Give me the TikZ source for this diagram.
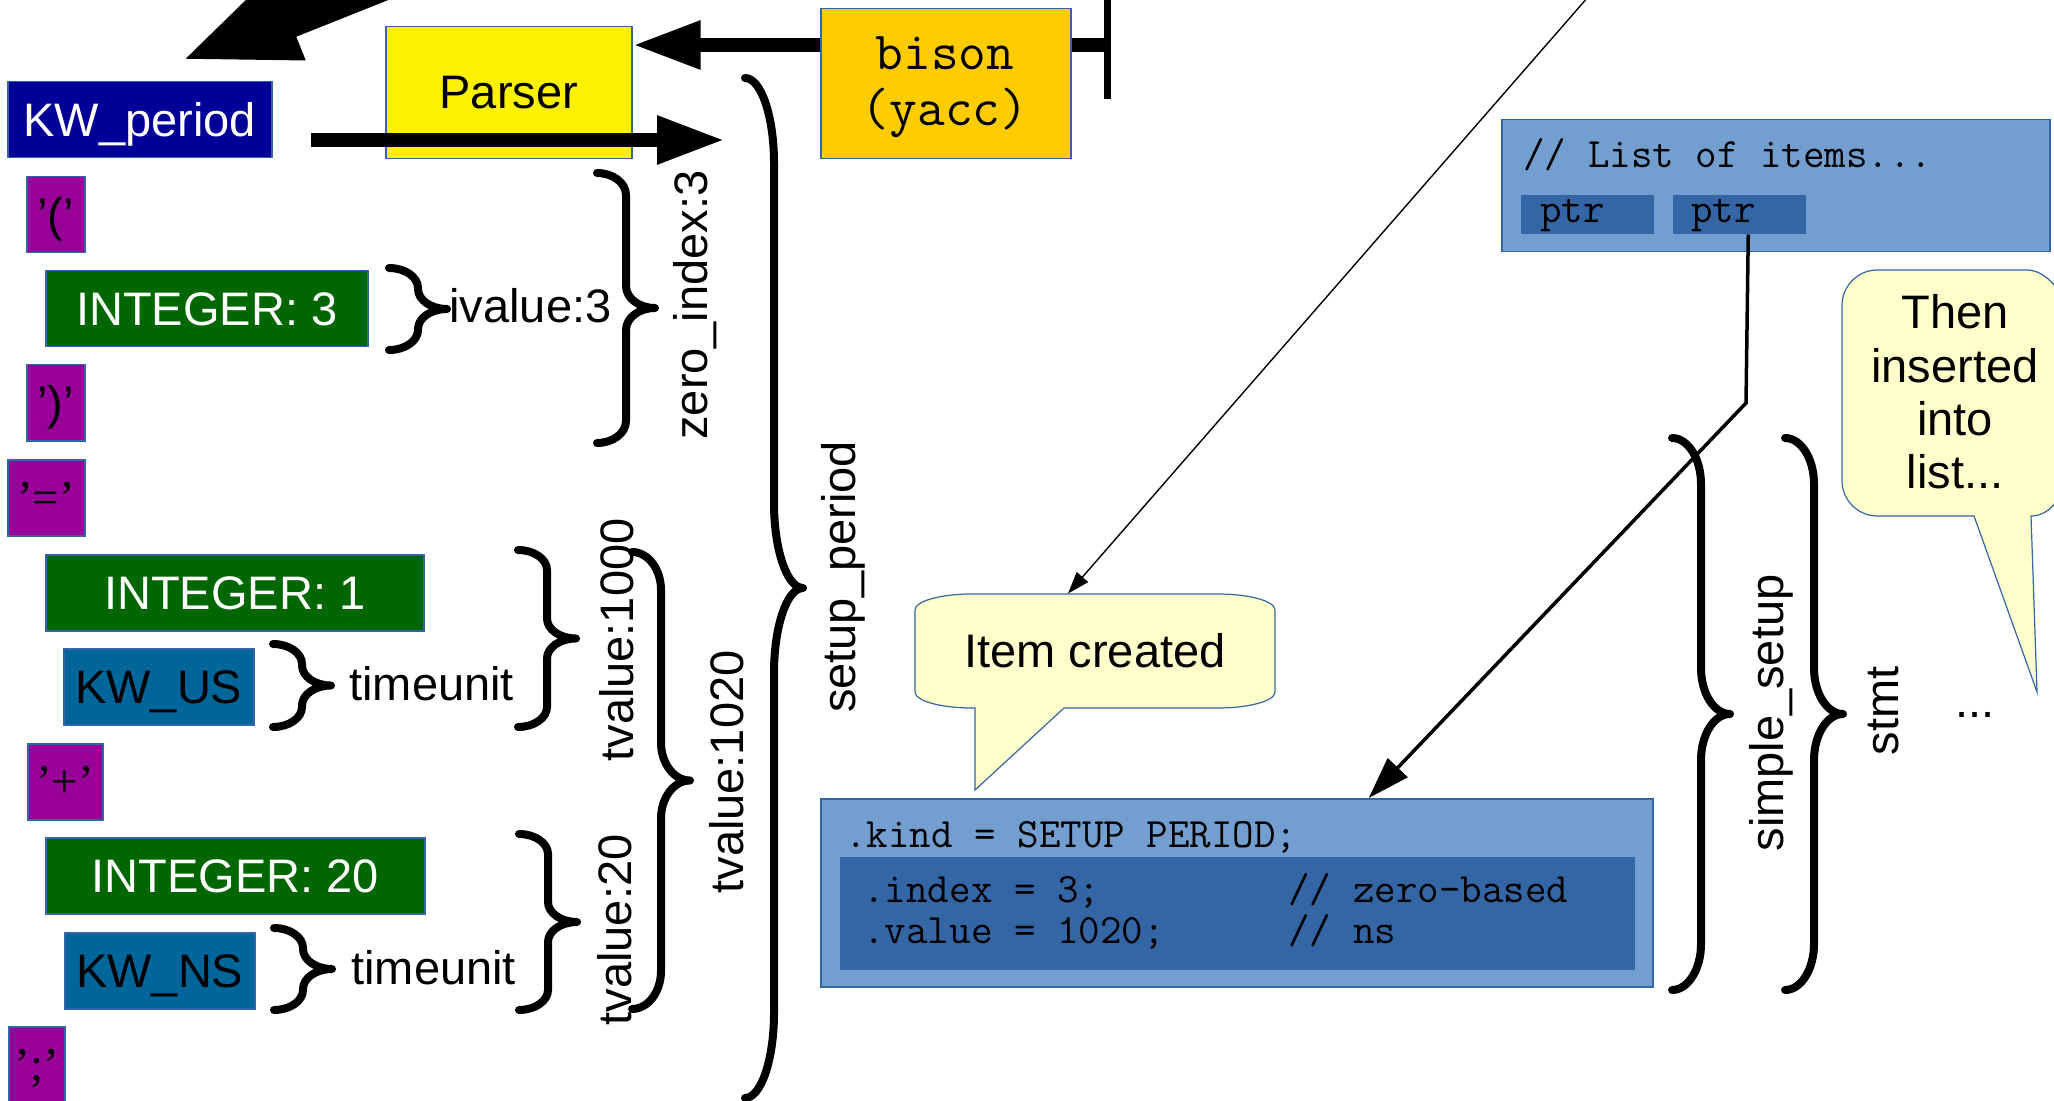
\documentclass[tikz,border=0pt]{standalone}
\usepackage{fontspec}
\setmainfont{Liberation Sans}
\newfontfamily\tokserif{Liberation Serif}
\usetikzlibrary{arrows.meta,positioning,calc}

\definecolor{kwblue}{HTML}{000099}
\definecolor{tokpurple}{HTML}{990099}
\definecolor{intgreen}{HTML}{006600}
\definecolor{unitblue}{HTML}{006699}
\definecolor{bisonorange}{HTML}{FFCC00}
\definecolor{lightblue}{HTML}{729FCF}
\definecolor{darkblue}{HTML}{3465A4}
\definecolor{noteyellow}{HTML}{FFFFCC}

% right curly brace: left x, top y, bottom y, curl
\newcommand{\grpbrace}[4]{%
  \draw[brace line] (#1,#2)
    .. controls ({#1+16},#2) and ({#1+29},{#2+0.45*#4}) .. ({#1+29},{#2+#4})
    -- ({#1+29},{(#2+#3)/2-#4})
    .. controls ({#1+29},{(#2+#3)/2-0.45*#4}) and ({#1+42},{(#2+#3)/2}) .. ({#1+58},{(#2+#3)/2})
    .. controls ({#1+42},{(#2+#3)/2}) and ({#1+29},{(#2+#3)/2+0.45*#4}) .. ({#1+29},{(#2+#3)/2+#4})
    -- ({#1+29},{#3-#4})
    .. controls ({#1+29},{#3-0.45*#4}) and ({#1+16},#3) .. (#1,#3);
}

\begin{document}
\begin{tikzpicture}[x=0.5pt, y=-0.5pt,
    box/.style={draw=darkblue, line width=0.75pt, inner sep=0pt, anchor=north west, text depth=0pt},
    tok/.style={box, fill=tokpurple, minimum height=38pt},
    optok/.style={tok, font=\tokserif\fontsize{23.5}{26.7}\selectfont},
    intbox/.style={box, fill=intgreen, text=white, minimum height=38pt},
    unitbox/.style={box, fill=unitblue, minimum width=95pt, minimum height=38pt},
    listbox/.style={box, fill=lightblue},
    ptrbox/.style={box, fill=darkblue, draw=none, minimum width=66.5pt, minimum height=19.5pt},
    code/.style={font=\ttfamily\fontsize{20.9}{24}\selectfont, inner sep=0pt, anchor=base west},
    lbl/.style={inner sep=0pt, anchor=base west},
    vlbl/.style={inner sep=0pt, anchor=base, rotate=90},
    note/.style={fill=noteyellow, draw=darkblue, line width=0.6pt},
    brace line/.style={line width=4pt, line cap=round, line join=round},
    bigarrow/.style={line width=7.25pt, -{Triangle[length=34pt,width=22.5pt]}},
    bararrow/.style={line width=7.25pt, {Bar[width=54pt,line width=3.5pt]}-{Triangle[length=34pt,width=22.5pt]}},
    hugearrow/.style={line width=20.5pt, -{Triangle[length=58.5pt,width=41pt]}},
    ptrarrow/.style={line width=1.75pt, -{Triangle[length=21pt,width=13.5pt]}},
    thinarrow/.style={line width=0.7pt, -{Triangle[length=11pt,width=7.5pt]}}]
  \tikzstyle{every node}=[font=\fontsize{23.5}{26.7}\selectfont]

  \useasboundingbox (0,0) rectangle (2054,1101);
  \clip (0,0) rectangle (2054,1101);
  \fill[white] (0,0) rectangle (2054,1101);

  % token stream
  \coordinate (lexsrc) at (644,-124);
  \coordinate (lextip) at (180,61);
  \draw[hugearrow] (lexsrc) -- (lextip);

  \node[box, fill=kwblue, text=white, minimum width=132pt, minimum height=38pt] (kwp) at (7,81) {KW\_period};
  \node[tok, minimum width=29pt] (lpar) at (26,176) {’(’};
  \node[intbox, minimum width=161pt] (int3) at (45,270) {INTEGER: 3};
  \node[tok, minimum width=29pt] (rpar) at (26,364) {’)’};
  \node[optok, minimum width=38.5pt] (eq) at (7,459) {’=’};
  \node[intbox, minimum width=189pt] (int1) at (45,554) {INTEGER: 1};
  \node[unitbox] (kwus) at (63,648) {KW\_US};
  \node[optok, minimum width=37.5pt] (plus) at (27,743) {’+’};
  \node[intbox, minimum width=189.5pt] (int20) at (45,837) {INTEGER: 20};
  \node[unitbox] (kwns) at (64,932) {KW\_NS};
  \node[optok, minimum width=28pt] (semi) at (8,1026) {’;’};

  % parser and generator
  \node[box, fill=yellow, minimum width=123pt, minimum height=66pt] (parser) at (385,26) {Parser};
  \coordinate (bar) at (1111,45);
  \draw[bararrow] (bar) -- (parser.east |- bar);
  \node[box, fill=bisonorange, minimum width=125pt, minimum height=75pt] (bison) at (820,8) {};
  \node[align=center, inner sep=0pt, font=\ttfamily\fontsize{26.9}{28}\selectfont] (bisontxt) at (945,87) {bison\\(yacc)};
  \coordinate (tin) at (311,140);
  \coordinate (tout) at (725,140);
  \draw[bigarrow] (tin) -- (tout);

  % reductions
  \grpbrace{389}{268}{350}{20}
  \node[lbl] (ival) at (449,323) {ivalue:3};
  \grpbrace{597}{173}{443}{22}
  \node[vlbl] (zidx) at (707,305) {zero\_index:3};
  \grpbrace{273}{644}{727}{20}
  \node[lbl] (tu1) at (349,700) {timeunit};
  \grpbrace{518}{550}{727}{20}
  \node[vlbl] (tv1000) at (633,640) {tvalue:1000};
  \grpbrace{274}{928}{1010}{20}
  \node[lbl] (tu2) at (351,984) {timeunit};
  \grpbrace{519}{834}{1010}{20}
  \node[vlbl] (tv20) at (631,930) {tvalue:20};
  \grpbrace{632}{552}{1009}{38}
  \node[vlbl] (tv1020) at (743,772) {tvalue:1020};
  \grpbrace{745}{78}{1098}{85}
  \node[vlbl] (setup) at (855,577) {setup\_period};

  % list of items
  \node[listbox, minimum width=274pt, minimum height=66pt] (list) at (1501,119) {};
  \node[code] (listtxt) at (1523,168) {// List of items...};
  \node[ptrbox] (ptr1) at (1520,194) {};
  \node[ptrbox, right=9pt of ptr1] (ptr2) {};
  \node[code] (p1) at (1540,223) {ptr};
  \node[code] (p2) at (1691,223) {ptr};

  % the new item
  \node[listbox, minimum width=416pt, minimum height=94pt] (item) at (820,798) {};
  \node[box, fill=darkblue, draw=none, minimum width=397.5pt, minimum height=56.5pt] (fields) at (839,856) {};
  \node[code] (kind) at (845,847) {.kind = SETUP PERIOD;};
  \node[code] (idx) at (863,902) {.index = 3;};
  \node[code] (cm1) at (1288,902) {// zero-based};
  \node[code] (val) at (863,943) {.value = 1020;};
  \node[code] (cm2) at (1288,943) {// ns};

  \coordinate (bend) at (1746,403);
  \draw[ptrarrow] ($(ptr2.south)+(8.5,0)$) -- (bend) -- ($(item.north)+(132,0)$);

  % notes
  \filldraw[note] (972,594) -- (1218,594) .. controls (1249,594) and (1275,601) .. (1275,610)
    -- (1275,692) .. controls (1275,701) and (1249,708) .. (1218,708) -- (1064,708) -- (975,790)
    -- (975,708) -- (972,708) .. controls (941,708) and (915,701) .. (915,692)
    -- (915,610) .. controls (915,601) and (941,594) .. (972,594) -- cycle;
  \node[inner sep=0pt, minimum width=180pt, minimum height=57pt] (created) at (1095,651) {Item created};
  \coordinate (src) at (1629,-50);
  \draw[thinarrow] (src) -- ($(created.north)+(-27,0)$);

  \filldraw[note] (1877,270) -- (2027,270) .. controls (2044,270) and (2062,289) .. (2062,305)
    -- (2062,481) .. controls (2062,500) and (2048,516) .. (2031,516) -- (2037,692) -- (1974,516)
    -- (1877,516) .. controls (1858,516) and (1842,500) .. (1842,481)
    -- (1842,305) .. controls (1842,286) and (1858,270) .. (1877,270) -- cycle;
  \node[align=center, inner sep=0pt] (then) at (1955,392) {Then\\inserted\\into\\list...};

  \grpbrace{1672}{438}{990}{46}
  \node[vlbl] (simple) at (1783,713) {simple\_setup};
  \grpbrace{1785}{438}{990}{46}
  \node[vlbl] (stmt) at (1898,711) {stmt};
  \node[lbl, anchor=base] (more) at (1975,717) {...};
\end{tikzpicture}
\end{document}
